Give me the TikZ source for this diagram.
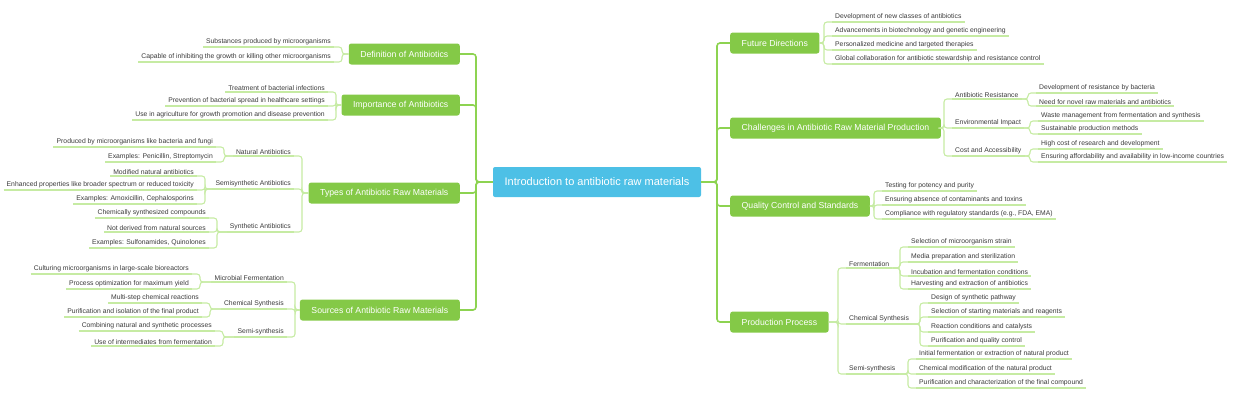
\documentclass[tikz,border=0pt]{standalone}
\usepackage{fontspec}
\setmainfont{Liberation Sans}
\usetikzlibrary{positioning, calc}

\definecolor{boxgreen}{HTML}{84C947}
\definecolor{trunkgreen}{HTML}{8DD351}
\definecolor{twiggreen}{HTML}{C6EBA3}
\definecolor{rootblue}{HTML}{4DC0E6}
\definecolor{leafgrey}{HTML}{3A3A3A}

% leaves to the left / right of a bracket at x=#3
\newcommand{\branchL}[4]{%
  \foreach \t/\y [count=\i] in {#4} {
    \node [leaf, anchor=south east] (#2\i) at (#3-8,\y) {\t};
    \draw [twig] (#1) -- (#1 -| #3,0) |- (#2\i.south east);
  }}
\newcommand{\branchR}[4]{%
  \foreach \t/\y [count=\i] in {#4} {
    \node [leaf, anchor=south west] (#2\i) at (#3+8,\y) {\t};
    \draw [twig] (#1) -- (#1 -| #3,0) |- (#2\i.south west);
  }}

\begin{document}
\begin{tikzpicture}[
                x=1pt, y=-1pt,
                box/.style={fill=boxgreen, text=white, rounded corners=2.5pt, inner xsep=11.5pt,
                            minimum height=21pt, font=\fontsize{8.7}{10}\selectfont},
                root/.style={fill=rootblue, text=white, rounded corners=2pt, minimum width=208pt,
                            minimum height=30pt, font=\fontsize{11}{13}\selectfont},
                leaf/.style={inner xsep=3pt, inner ysep=1.4pt, text=leafgrey, font=\fontsize{6.8}{7.5}\selectfont,
                            append after command={(\tikzlastnode.south west) edge [twig] (\tikzlastnode.south east)}},
                trunk/.style={draw=trunkgreen, line width=1.6pt, rounded corners=3pt},
                twig/.style={draw=twiggreen, line width=1.1pt, rounded corners=3pt}]

    \useasboundingbox (0,0) rectangle (1240,400);

    %%% NODES
    \node [root] (intro) at (597,182) {Introduction to antibiotic raw materials};

    \node [box, anchor=east] (definition) at (460,54) {Definition of Antibiotics};
    \node [box, anchor=east] (importance) at (460,105) {Importance of Antibiotics};
    \node [box, anchor=east] (types) at (460,193) {Types of Antibiotic Raw Materials};
    \node [box, anchor=east] (sources) at (460,310) {Sources of Antibiotic Raw Materials};

    \node [box, anchor=west] (future) at (730,43) {Future Directions};
    \node [box, anchor=west] (challenges) at (730,128) {Challenges in Antibiotic Raw Material Production};
    \node [box, anchor=west] (quality) at (730,206) {Quality Control and Standards};
    \node [box, anchor=west] (production) at (730,322) {Production Process};

    %%% CONNECTIONS
    \foreach \b in {definition, importance, types, sources}
        \draw [trunk] (intro.west) -- (intro.west -| 476,0) |- (\b.east);
    \foreach \b in {future, challenges, quality, production}
        \draw [trunk] (intro.east) -- (intro.east -| 717,0) |- (\b.west);

    %%% LEFT LEAVES
    \branchL{definition.west}{def}{342}{Substances produced by microorganisms/47,
        Capable of inhibiting the growth or killing other microorganisms/62}
    \branchL{importance.west}{imp}{336}{Treatment of bacterial infections/92,
        Prevention of bacterial spread in healthcare settings/106,
        Use in agriculture for growth promotion and disease prevention/120}
    \branchL{types.west}{typ}{302}{Natural Antibiotics/156, Semisynthetic Antibiotics/189,
        Synthetic Antibiotics/232}
    \branchL{typ1.south west}{nat}{224}{Produced by microorganisms like bacteria and fungi/147,
        {Examples: Penicillin, Streptomycin}/162}
    \branchL{typ2.south west}{semi}{205}{Modified natural antibiotics/176,
        Enhanced properties like broader spectrum or reduced toxicity/190,
        {Examples: Amoxicillin, Cephalosporins}/204}
    \branchL{typ3.south west}{syn}{217}{Chemically synthesized compounds/218,
        Not derived from natural sources/232, {Examples: Sulfonamides, Quinolones}/248}
    \branchL{sources.west}{src}{295}{Microbial Fermentation/282, Chemical Synthesis/309,
        Semi-synthesis/337}
    \branchL{src1.south west}{mic}{200}{Culturing microorganisms in large-scale bioreactors/274,
        Process optimization for maximum yield/289}
    \branchL{src2.south west}{chem}{210}{Multi-step chemical reactions/303,
        Purification and isolation of the final product/317}
    \branchL{src3.south west}{sem}{223}{Combining natural and synthetic processes/331,
        Use of intermediates from fermentation/346}

    %%% RIGHT LEAVES
    \branchR{future.east}{fut}{824}{Development of new classes of antibiotics/22,
        Advancements in biotechnology and genetic engineering/36,
        Personalized medicine and targeted therapies/50,
        Global collaboration for antibiotic stewardship and resistance control/64}
    \branchR{challenges.east}{cha}{944}{Antibiotic Resistance/99, Environmental Impact/128,
        Cost and Accessibility/156}
    \branchR{cha1.south east}{res}{1028}{Development of resistance by bacteria/93,
        Need for novel raw materials and antibiotics/106}
    \branchR{cha2.south east}{env}{1030}{Waste management from fermentation and synthesis/121,
        Sustainable production methods/134}
    \branchR{cha3.south east}{cost}{1030}{High cost of research and development/149,
        Ensuring affordability and availability in low-income countries/162}
    \branchR{quality.east}{qua}{874}{Testing for potency and purity/191,
        Ensuring absence of contaminants and toxins/205,
        {Compliance with regulatory standards (e.g., FDA, EMA)}/219}
    \branchR{production.east}{pro}{838}{Fermentation/268, Chemical Synthesis/324, Semi-synthesis/374}
    \branchR{pro1.south east}{fer}{900}{Selection of microorganism strain/247,
        Media preparation and sterilization/262, Incubation and fermentation conditions/276,
        Harvesting and extraction of antibiotics/289}
    \branchR{pro2.south east}{cs}{920}{Design of synthetic pathway/303,
        Selection of starting materials and reagents/317, Reaction conditions and catalysts/332,
        Purification and quality control/346}
    \branchR{pro3.south east}{ss}{908}{Initial fermentation or extraction of natural product/359,
        Chemical modification of the natural product/374,
        Purification and characterization of the final compound/388}

\end{tikzpicture}
\end{document}
